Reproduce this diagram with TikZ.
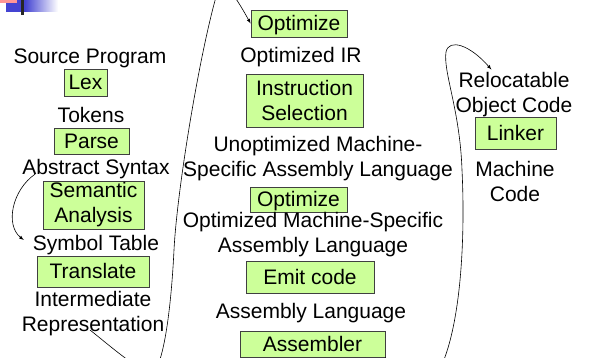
\documentclass[tikz,border=0pt]{standalone}
\usepackage{fontspec}
\setmainfont{Liberation Sans}
\usetikzlibrary{arrows.meta}
\definecolor{phasegreen}{RGB}{204,255,153}
\definecolor{slideblue}{RGB}{68,68,210}
\definecolor{slidepink}{RGB}{255,150,150}
\tikzset{
  phase/.style={draw=black!75, fill=phasegreen, line width=0.8pt, inner sep=0pt, align=center, font=\fontsize{21}{25}\selectfont},
  oneline/.style={phase, text height=15pt, text depth=0pt},
  lbl/.style={inner sep=0pt, align=center, anchor=base, font=\fontsize{21}{25}\selectfont},
  flow/.style={-latex, line width=0.6pt}
}
\begin{document}
\begin{tikzpicture}[x=1pt,y=-1pt]
\useasboundingbox (0,0) rectangle (590,358);
\clip (0,0) rectangle (590,358);
% slide corner
\fill[slideblue] (6,0) rectangle (25,12);
\shade[left color=slideblue, right color=white] (25,0) rectangle (58,12);
\fill[slidepink] (0,0) rectangle (17,3);
\fill[black!85] (21,0) rectangle (24,15);
% front end
\node[lbl] (src) at (90,64) {Source Program};
\node[oneline, minimum width=43pt, minimum height=27pt] (lex) at (85.5,82.5) {Lex};
\node[lbl] (tok) at (91,123) {Tokens};
\node[oneline, minimum width=75pt, minimum height=26pt] (parse) at (91.5,141) {Parse};
\node[lbl] (abs) at (96,175) {Abstract Syntax};
\node[phase, minimum width=101pt, minimum height=48pt] (sem) at (93.5,205) {Semantic\\Analysis};
\node[lbl] (sym) at (96,251) {Symbol Table};
\node[oneline, minimum width=112pt, minimum height=31pt] (trans) at (93,271.5) {Translate};
\node[lbl] (repr) at (93,332) {Intermediate\\Representation};
% back end
\node[oneline, minimum width=96pt, minimum height=27pt] (opt1) at (299,23.5) {Optimize};
\node[lbl] (oir) at (301,63) {Optimized IR};
\node[phase, minimum width=117pt, minimum height=53pt] (isel) at (304.5,100.5) {Instruction\\Selection};
\node[lbl] (uma) at (318,177) {Unoptimized Machine-\\Specific Assembly Language};
\node[oneline, minimum width=97pt, minimum height=25pt] (opt2) at (298.5,199.5) {Optimize};
\node[lbl] (oma) at (313,253) {Optimized Machine-Specific\\Assembly Language};
\node[oneline, minimum width=128pt, minimum height=32pt] (emit) at (310,277) {Emit code};
\node[lbl] (asl) at (311,319) {Assembly Language};
\node[oneline, minimum width=145pt, minimum height=26pt] (asmb) at (312.5,344) {Assembler};
% linking
\node[lbl] (reloc) at (514,113) {Relocatable\\Object Code};
\node[oneline, minimum width=81pt, minimum height=32pt] (link) at (515.5,133) {Linker};
\node[lbl] (mc) at (515,202) {Machine\\Code};
% connectors
\draw[flow] ([xshift=13pt,yshift=1pt]abs.base west) .. controls (12,190) and (5,225) .. ([xshift=-9pt,yshift=11pt]sym.base west);
\draw[flow] ([xshift=-3pt,yshift=2pt]repr.base) .. controls (115,350) and (140,372) .. (152,372)
  .. controls (160,372) and (170,330) .. (174,250)
  .. controls (177,190) and (200,50) .. (218,-10)
  .. controls (222,-22) and (232,-10) .. (opt1.west);
\draw[flow] (asmb.south east) .. controls (400,385) and (437,385) .. (445,357)
  .. controls (462,310) and (465,230) .. (462,170)
  .. controls (460,110) and (443,72) .. (446,52)
  .. controls (449,38) and (470,45) .. ([xshift=36pt,yshift=3pt]reloc.north west);
\end{tikzpicture}
\end{document}
